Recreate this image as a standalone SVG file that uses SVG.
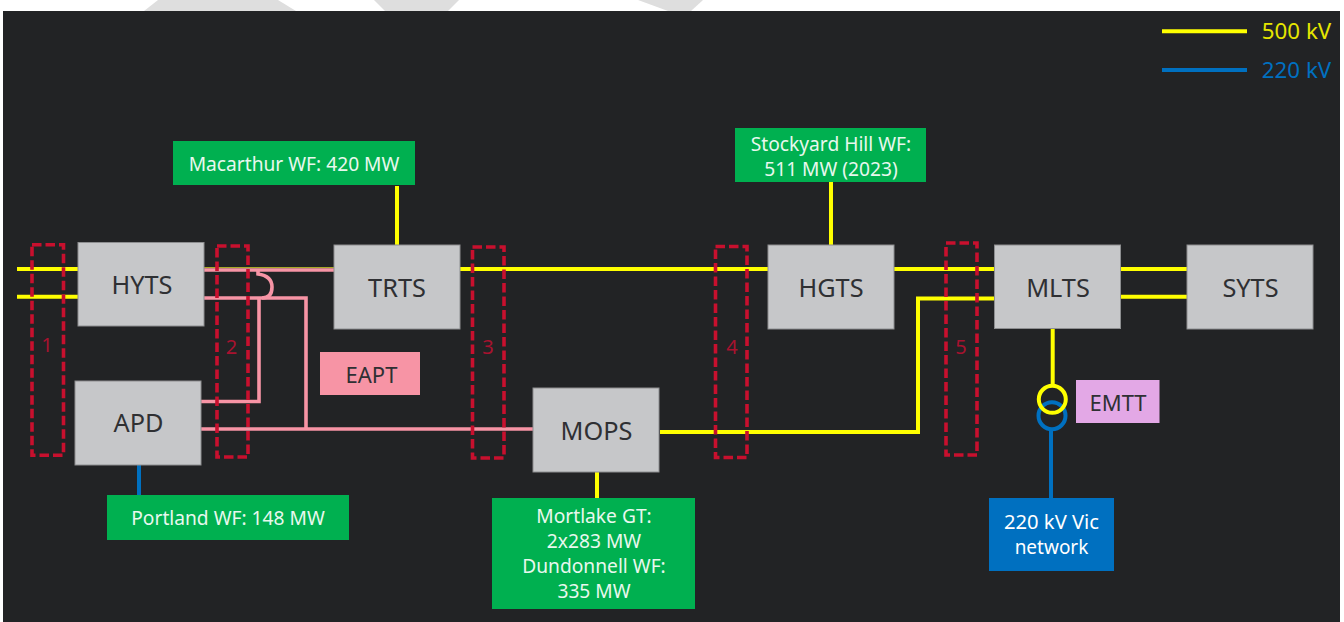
<svg xmlns="http://www.w3.org/2000/svg" width="1344" height="622" viewBox="0 0 1344 622">
<style>
text{font-family:"Noto Sans","Open Sans","Liberation Sans",sans-serif;text-anchor:middle}
.sub{fill:#c6c7c9;stroke:#8d8e90;stroke-width:1}
.subt{font-size:25.3px;fill:#2f3033}
.gen{fill:#00b050}
.gent{font-size:19.2px;fill:#e8f8ee}
.y{fill:none;stroke:#ffff00;stroke-width:4}
.p{fill:none;stroke:#f794a5;stroke-width:3.6}
.b{fill:none;stroke:#0070c0;stroke-width:4}
.cut{fill:none;stroke:#c8102e;stroke-width:3.6;stroke-dasharray:9.5 4}
.cutt{font-size:20px;fill:#a8122f}
.lab{font-size:22px;fill:#2f3033}
</style>
<rect width="1344" height="622" fill="#fff"/>
<g fill="#dedede">
<polygon points="144,11 158,0 278,0 296,11"/>
<polygon points="385,11 374,0 459,0 448,11"/>
<polygon points="668,11 638,0 703,0 691,11"/>
</g>
<rect x="3" y="11" width="1337" height="611" fill="#222325"/>
<g id="connectors">
<path class="y" d="M17 269H78M17 296.7H80"/>
<path class="y" d="M460 269H768M894 269H994M1120 269H1187M1120 296.7H1187"/>
<path d="M204 267.6H334" fill="none" stroke="#a8a828" stroke-width="1.2"/>
<path class="p" d="M204 270H334M204 298H306V429M201 429H533M201 401.5H259V298"/>
<path class="p" d="M258 270V274Q272 276 272 287Q272 298 262 298"/>
<path class="y" d="M660 432H918V298.5H994"/>
<path class="y" d="M397 186V245M831 182V245M597 472V498M1052.7 329V386"/>
<path class="b" d="M139 465V495M1051 430V498"/>
<circle class="b" cx="1052" cy="415.7" r="13.5"/>
<circle class="y" cx="1052.3" cy="399.3" r="13.5"/>
<path class="y" d="M1162 31.3H1247"/>
<path class="b" d="M1162 70H1247"/>
</g>
<g id="HYTS"><rect class="sub" x="78" y="242.5" width="126" height="83.5"/><text class="subt" x="142" y="293.5">HYTS</text></g>
<g id="TRTS"><rect class="sub" x="334" y="245" width="126" height="84"/><text class="subt" x="397" y="296.5">TRTS</text></g>
<g id="APD"><rect class="sub" x="75" y="381" width="126" height="84"/><text class="subt" x="138.5" y="432">APD</text></g>
<g id="MOPS"><rect class="sub" x="533" y="388" width="126" height="84"/><text class="subt" x="596.5" y="440">MOPS</text></g>
<g id="HGTS"><rect class="sub" x="768" y="245" width="126" height="84"/><text class="subt" x="831" y="296.5">HGTS</text></g>
<g id="MLTS"><rect class="sub" x="994.5" y="245" width="126" height="83.5"/><text class="subt" x="1058" y="296.5">MLTS</text></g>
<g id="SYTS"><rect class="sub" x="1187" y="245" width="126" height="84"/><text class="subt" x="1250.5" y="296.5">SYTS</text></g>
<g id="macarthur"><rect class="gen" x="173" y="141" width="242" height="44"/><text class="gent" x="294" y="170.5">Macarthur WF: 420 MW</text></g>
<g id="stockyard"><rect class="gen" x="735" y="128" width="191" height="54"/><text class="gent" x="831" y="151">Stockyard Hill WF:</text><text class="gent" x="831" y="176">511 MW (2023)</text></g>
<g id="portland"><rect class="gen" x="107" y="495" width="242" height="45"/><text class="gent" x="228" y="525">Portland WF: 148 MW</text></g>
<g id="mortlake"><rect class="gen" x="492" y="498" width="203" height="111"/><text class="gent" x="594" y="523">Mortlake GT:</text><text class="gent" x="594" y="548">2x283 MW</text><text class="gent" x="594" y="573">Dundonnell WF:</text><text class="gent" x="594" y="598">335 MW</text></g>
<g id="vic"><rect x="989" y="498" width="125" height="73" fill="#0070c0"/><text x="1051.5" y="529" font-size="20.2" fill="#fff">220 kV Vic</text><text x="1051.5" y="554" font-size="19" fill="#fff">network</text></g>
<g id="EAPT"><rect x="320" y="352" width="100" height="43" fill="#f794a5"/><text class="lab" x="371.5" y="382.5">EAPT</text></g>
<g id="EMTT"><rect x="1076" y="380" width="83.5" height="43" fill="#e3a8e6"/><text class="lab" x="1118" y="410.7">EMTT</text></g>
<g id="cut1"><rect class="cut" x="32" y="244.7" width="31.5" height="210.5"/><text class="cutt" x="47" y="352">1</text></g>
<g id="cut2"><rect class="cut" x="217" y="246" width="31" height="211"/><text class="cutt" x="231.5" y="354">2</text></g>
<g id="cut3"><rect class="cut" x="472.5" y="247" width="31.5" height="211"/><text class="cutt" x="488" y="354">3</text></g>
<g id="cut4"><rect class="cut" x="715.5" y="246.5" width="31.5" height="211"/><text class="cutt" x="732" y="354">4</text></g>
<g id="cut5"><rect class="cut" x="946" y="243" width="31" height="212"/><text class="cutt" x="961" y="354">5</text></g>
<g id="legend"><text x="1296.5" y="39.3" font-size="22.3" fill="#e6e600">500 kV</text><text x="1296.5" y="78" font-size="22.3" fill="#0070c0">220 kV</text></g>
</svg>
